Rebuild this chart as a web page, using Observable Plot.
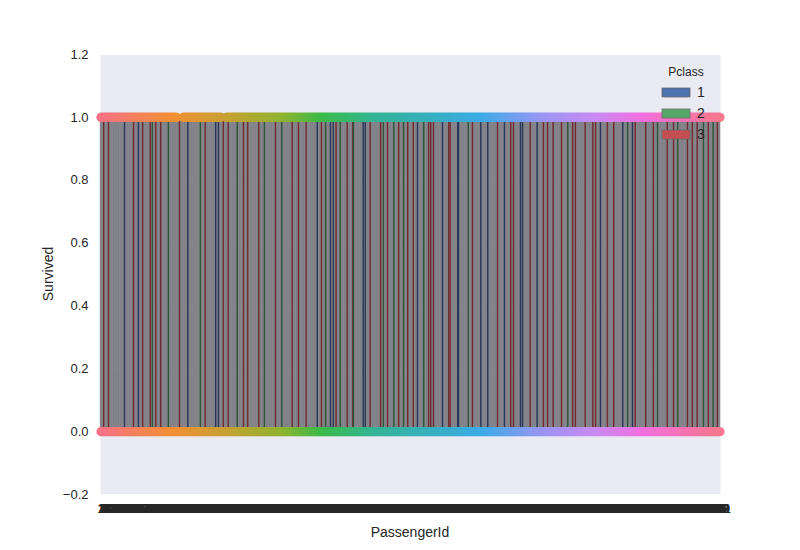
<!DOCTYPE html>
<html>
<head>
<meta charset="utf-8">
<script src="https://cdn.jsdelivr.net/npm/d3@7"></script>
<script src="https://cdn.jsdelivr.net/npm/@observablehq/plot@0.6"></script>
<style>
  html, body { margin: 0; padding: 0; background: #fff; }
  #chart { position: relative; width: 800px; height: 550px; }
  svg { font-family: "Liberation Sans", Arial, sans-serif; }
</style>
</head>
<body>
<div id="chart"></div>
<script>
// ---- data ----
const passengerIds = d3.range(1, 892);          // categories 1..891
const survivedClass1 = [35,55,126,166,170,312,331,335,378,381,456,492,514,515,547,557,581,604,607,628,719,751,765];
const survivedClass2 = [75,98,144,197,236,261,324,345,364,407,422,436,465,529,672,758,801,830,867,881];
const survivedClass3 = [5,12,48,61,72,80,87,114,151,177,184,206,212,228,252,276,285,296,318,339,355,363,388,403,413,429,442,450,472,475,479,501,503,535,571,590,594,618,637,643,651,663,679,683,697,708,712,729,738,769,784,795,815,824,844,851,858,874,887];
// stretches of PassengerId where the row of points at Survived = 1 is solid
const topRowSpans = [[1, 110], [119, 174], [181, 891]];
const pclassLabels = ["1", "2", "3"];
const yTicks = [-0.2, 0.0, 0.2, 0.4, 0.6, 0.8, 1.0, 1.2];

// table
const survivors = [
  ...survivedClass1.map(id => ({id, pclass: "1"})),
  ...survivedClass2.map(id => ({id, pclass: "2"})),
  ...survivedClass3.map(id => ({id, pclass: "3"}))
].sort((a, b) => a.id - b.id);
const topRow = passengerIds.filter(id => topRowSpans.some(([a, b]) => id >= a && id <= b)).map(id => ({id}));
const bottomRow = passengerIds.map(id => ({id}));

// styles
const lineColors = {"1": "#27365a", "2": "#2b5535", "3": "#73292e"};
const patchColors = {"1": "#4c72b0", "2": "#55a868", "3": "#c44e52"};
const hueStops = [0, 0.12, 0.22, 0.30, 0.36, 0.45, 0.54, 0.62, 0.72, 0.80, 0.88, 1];
const hueColors = ['#f77189','#f39034','#c0a431','#8db431','#3cbb48','#34b598','#37b0c0','#3dabe8','#9c95f4','#c78cf3','#f36fe0','#f7788f'];
const hueScale = d3.scaleLinear().domain(hueStops).range(hueColors).interpolate(d3.interpolateRgb);
const idColor = id => hueScale((id - 1) / (passengerIds.length - 1));
const ink = "#262626";
const font = '"Liberation Sans", Arial, sans-serif';

const plot = Plot.plot({
  width: 800,
  height: 550,
  marginLeft: 100,
  marginRight: 80,
  marginTop: 54,
  marginBottom: 56,
  style: { fontFamily: font, fontSize: "13px", color: ink, background: "white" },
  x: {
    type: "band",
    domain: passengerIds,
    padding: 0,
    tickSize: 0,
    tickPadding: 9,
    tickFormat: d => String(d),
    label: null
  },
  y: {
    domain: [-0.2, 1.2],
    ticks: yTicks,
    tickSize: 0,
    tickPadding: 12,
    tickFormat: d => d.toFixed(1).replace("-", "\u2212"),
    label: null
  },
  marks: [
    Plot.frame({fill: "#eaeaf2", stroke: "none"}),
    Plot.gridY(yTicks, {stroke: "white", strokeOpacity: 1, strokeWidth: 1}),
    Plot.barY(passengerIds, {x: d => d, y1: 0, y2: 1, fill: "#7c7c82", stroke: "#7c7c82", strokeWidth: 0.4, fillOpacity: 0.92, strokeOpacity: 0.92, inset: 0}),
    Plot.ruleX(survivors, {x: "id", y1: 0, y2: 1, stroke: d => lineColors[d.pclass], strokeWidth: 1.4}),
    Plot.dot(bottomRow, {x: "id", y: 0, r: 4.5, fill: d => idColor(d.id), stroke: "none"}),
    Plot.dot(topRow, {x: "id", y: 1, r: 4.5, fill: d => idColor(d.id), stroke: "none"})
  ]
});

document.getElementById("chart").appendChild(plot);

const svg = d3.select(plot);
// axis labels
svg.append("text").attr("x", 410).attr("y", 537).attr("text-anchor", "middle")
  .attr("font-family", font).attr("font-size", "14px").attr("fill", ink).text("PassengerId");
svg.append("text").attr("transform", "translate(53,274) rotate(-90)").attr("text-anchor", "middle")
  .attr("font-family", font).attr("font-size", "14px").attr("fill", ink).text("Survived");

// legend (inside plot, top right)
const lg = svg.append("g").attr("font-family", font).attr("fill", ink);
lg.append("text").attr("x", 686).attr("y", 76).attr("text-anchor", "middle").attr("font-size", "12px").text("Pclass");
pclassLabels.forEach((c, i) => {
  const y0 = 88 + i * 21;
  lg.append("rect").attr("x", 662).attr("y", y0).attr("width", 28).attr("height", 9)
    .attr("fill", patchColors[c]).attr("stroke", "#6a6a6a").attr("stroke-width", 0.8);
  lg.append("text").attr("x", 701).attr("y", y0 + 9).attr("font-size", "14px").text(c);
});
</script>
</body>
</html>
